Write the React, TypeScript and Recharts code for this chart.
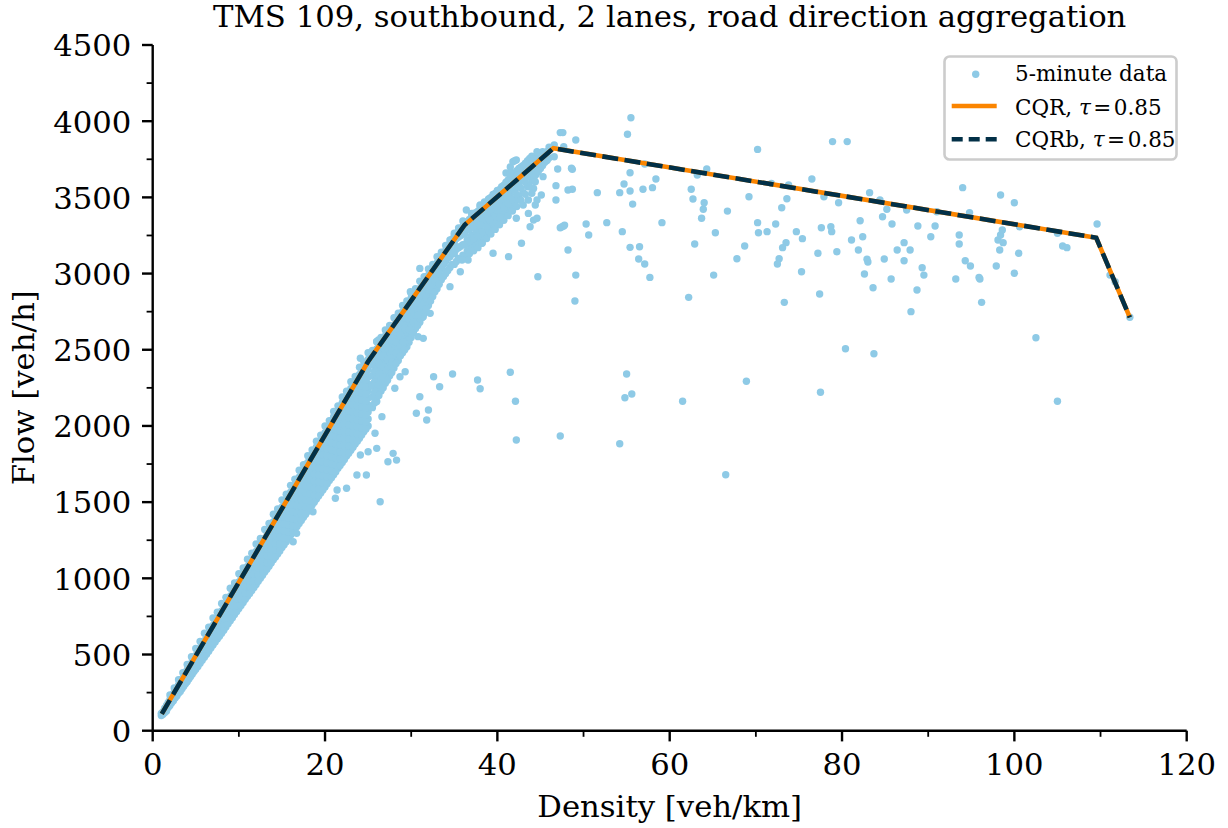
import React from 'react';
import { ScatterChart, Scatter, XAxis, YAxis, Legend } from 'recharts';

// ---------- data ----------

// Dense free-flow cloud, main columns: density -> observed flows
const freeFlowDensity: number[] = [
  1.0, 1.4, 1.8, 2.2, 2.6, 3.0, 3.4, 3.8, 4.2, 4.6, 5.0, 5.5, 6.0, 6.5, 7.0, 7.5, 8.0, 8.5, 9.0, 9.5,
  10.0, 10.5, 11.0, 11.5, 12.0, 12.5, 13.0, 13.5, 14.0, 14.5, 15.0, 15.5, 16.0, 16.5, 17.0, 17.5,
  18.0, 18.5, 19.0, 19.5, 20.0, 20.5, 21.0, 21.5, 22.0, 22.5, 23.0, 23.5, 24.0, 24.5, 25.0,
];
const freeFlowFlows: number[][] = [
  [100, 114],
  [120, 134, 147],
  [152, 170, 185],
  [183, 202, 222],
  [214, 236, 261],
  [246, 268, 290, 301],
  [276, 302, 325, 340],
  [308, 333, 358, 379],
  [340, 366, 392, 418],
  [372, 398, 426, 456],
  [404, 432, 462, 494],
  [442, 472, 505, 542],
  [482, 514, 548, 591],
  [522, 554, 588, 620, 644],
  [562, 594, 628, 662, 690],
  [602, 636, 672, 706, 738],
  [640, 676, 712, 748, 786],
  [680, 716, 754, 792, 834],
  [722, 760, 798, 838, 882],
  [762, 802, 842, 882, 928],
  [802, 842, 884, 928, 976],
  [842, 884, 926, 970, 1012, 1028],
  [882, 924, 966, 1010, 1052, 1078],
  [920, 962, 1006, 1050, 1094, 1128],
  [960, 1002, 1046, 1090, 1134, 1176],
  [1000, 1044, 1088, 1132, 1178, 1222],
  [1042, 1086, 1130, 1174, 1218, 1262],
  [1080, 1124, 1168, 1212, 1258, 1300, 1322],
  [1122, 1166, 1210, 1254, 1298, 1342, 1370],
  [1160, 1204, 1250, 1294, 1340, 1384, 1418],
  [1202, 1246, 1290, 1336, 1380, 1426, 1466],
  [1240, 1286, 1330, 1376, 1422, 1466, 1512],
  [1282, 1326, 1372, 1416, 1462, 1508, 1548, 1566],
  [1318, 1364, 1410, 1456, 1502, 1548, 1592, 1614],
  [1360, 1406, 1452, 1498, 1544, 1590, 1634, 1664],
  [1400, 1446, 1492, 1538, 1584, 1630, 1676, 1712],
  [1440, 1486, 1532, 1578, 1624, 1670, 1716, 1760],
  [1482, 1528, 1574, 1620, 1666, 1712, 1756, 1794, 1812],
  [1520, 1566, 1612, 1658, 1704, 1750, 1796, 1840, 1862],
  [1560, 1606, 1652, 1698, 1744, 1790, 1836, 1880, 1908],
  [1600, 1646, 1692, 1738, 1784, 1830, 1876, 1922, 1956],
  [1642, 1688, 1734, 1780, 1826, 1872, 1918, 1962, 2004],
  [1680, 1726, 1772, 1818, 1864, 1910, 1956, 2000, 2040, 2060],
  [1722, 1768, 1814, 1860, 1906, 1952, 1998, 2044, 2088, 2104],
  [1760, 1806, 1852, 1898, 1944, 1990, 2036, 2082, 2126, 2152],
  [1802, 1848, 1894, 1940, 1986, 2032, 2078, 2124, 2168, 2198],
  [1840, 1886, 1932, 1978, 2024, 2070, 2116, 2162, 2208, 2246],
  [1882, 1928, 1974, 2020, 2066, 2112, 2158, 2204, 2250, 2292],
  [1920, 1966, 2012, 2058, 2104, 2150, 2196, 2242, 2288, 2338],
  [1962, 2008, 2054, 2100, 2146, 2192, 2238, 2284, 2330, 2386],
  [2000, 2046, 2092, 2138, 2184, 2230, 2276, 2322, 2368, 2412, 2436],
];

// Dense free-flow cloud, in-between columns
const freeFlowDensityMid: number[] = [
  1.2, 1.6, 2.0, 2.4, 2.8, 3.2, 3.6, 4.0, 4.4, 4.8, 5.25, 5.75, 6.25, 6.75, 7.25, 7.75, 8.25, 8.75,
  9.25, 9.75, 10.25, 10.75, 11.25, 11.75, 12.25, 12.75, 13.25, 13.75, 14.25, 14.75, 15.25, 15.75,
  16.25, 16.75, 17.25, 17.75, 18.25, 18.75, 19.25, 19.75, 20.25, 20.75, 21.25, 21.75, 22.25, 22.75,
  23.25, 23.75, 24.25, 24.75,
];
const freeFlowFlowsMid: number[][] = [
  [108, 124],
  [130, 150, 165],
  [165, 185, 204],
  [196, 218, 242],
  [228, 252, 276],
  [258, 284, 310, 322],
  [292, 318, 344, 360],
  [322, 350, 376, 398],
  [356, 382, 410, 436],
  [388, 416, 446, 474],
  [422, 452, 484, 518],
  [462, 494, 526, 562],
  [502, 534, 568, 604],
  [542, 576, 610, 642, 664],
  [582, 616, 650, 684, 712],
  [620, 656, 692, 728, 760],
  [660, 698, 734, 770, 806],
  [702, 740, 778, 816, 856],
  [742, 782, 822, 862, 904],
  [782, 822, 864, 906, 950],
  [822, 864, 906, 950, 994],
  [862, 904, 946, 990, 1032, 1052],
  [900, 944, 986, 1030, 1074, 1100],
  [940, 984, 1028, 1072, 1116, 1150],
  [980, 1024, 1068, 1112, 1156, 1196],
  [1020, 1064, 1108, 1152, 1196, 1240],
  [1060, 1104, 1150, 1196, 1240, 1282],
  [1100, 1146, 1190, 1234, 1278, 1322, 1344],
  [1140, 1186, 1230, 1276, 1320, 1364, 1390],
  [1180, 1226, 1270, 1316, 1360, 1406, 1440],
  [1220, 1266, 1312, 1358, 1402, 1446, 1488],
  [1260, 1306, 1352, 1398, 1444, 1490, 1534],
  [1300, 1346, 1392, 1438, 1484, 1528, 1572],
  [1340, 1386, 1432, 1478, 1524, 1570, 1614, 1636],
  [1380, 1426, 1472, 1518, 1564, 1610, 1654, 1684],
  [1420, 1466, 1512, 1558, 1604, 1650, 1696, 1732],
  [1460, 1506, 1552, 1598, 1644, 1690, 1736, 1778],
  [1500, 1546, 1592, 1638, 1684, 1730, 1776, 1822],
  [1540, 1586, 1632, 1678, 1724, 1770, 1816, 1862, 1880],
  [1580, 1626, 1672, 1718, 1764, 1810, 1856, 1900, 1926],
  [1620, 1666, 1712, 1758, 1804, 1850, 1896, 1942, 1978],
  [1660, 1706, 1752, 1798, 1844, 1890, 1936, 1982, 2022],
  [1700, 1746, 1792, 1838, 1884, 1930, 1976, 2022, 2068],
  [1740, 1786, 1832, 1878, 1924, 1970, 2016, 2062, 2108, 2124],
  [1780, 1826, 1872, 1918, 1964, 2010, 2056, 2102, 2148, 2170],
  [1820, 1866, 1912, 1958, 2004, 2050, 2096, 2142, 2188, 2220],
  [1860, 1906, 1952, 1998, 2044, 2090, 2136, 2182, 2228, 2268],
  [1900, 1946, 1992, 2038, 2084, 2130, 2176, 2222, 2268, 2314],
  [1940, 1986, 2032, 2078, 2124, 2170, 2216, 2262, 2308, 2358],
  [1980, 2026, 2072, 2118, 2164, 2210, 2256, 2302, 2348, 2400],
];

// Cloud approaching capacity, main columns
const nearCapacityDensity: number[] = [
  25.5, 26.0, 26.5, 27.0, 27.5, 28.0, 28.5, 29.0, 29.5, 30.0, 30.5, 31.0, 31.5, 32.0, 32.5, 33.0,
  33.5, 34.0, 34.5, 35.0, 35.5, 36.0, 36.5, 37.0, 37.5, 38.0, 38.5, 39.0, 39.5, 40.0, 40.5, 41.0,
  41.5, 42.0, 42.5, 43.0, 43.5, 44.0, 44.5, 45.0, 45.5, 46.0,
];
const nearCapacityFlows: number[][] = [
  [2120, 2190, 2260, 2330, 2400, 2470],
  [2160, 2240, 2310, 2380, 2440, 2505],
  [2230, 2300, 2370, 2440, 2500, 2548],
  [2280, 2350, 2420, 2490, 2560, 2590],
  [2330, 2400, 2470, 2540, 2610, 2630],
  [2380, 2450, 2520, 2590, 2660],
  [2430, 2500, 2570, 2640, 2700],
  [2480, 2550, 2620, 2690, 2750],
  [2520, 2600, 2670, 2740, 2790],
  [2580, 2650, 2720, 2790, 2840],
  [2640, 2710, 2780, 2850],
  [2680, 2760, 2830, 2900],
  [2740, 2810, 2880, 2940],
  [2790, 2860, 2930, 2990],
  [2850, 2920, 2990, 3030],
  [2900, 2970, 3040, 3070],
  [2960, 3030, 3100],
  [3000, 3080, 3150],
  [3040, 3110, 3180, 3200],
  [3060, 3130, 3200, 3250],
  [3100, 3170, 3240, 3280],
  [3120, 3190, 3260, 3310],
  [3150, 3220, 3290, 3340],
  [3180, 3250, 3320, 3370],
  [3200, 3280, 3350, 3400],
  [3230, 3310, 3380, 3430, 3450],
  [3260, 3340, 3410, 3470],
  [3290, 3370, 3440, 3490],
  [3320, 3400, 3470, 3520],
  [3350, 3430, 3500, 3540],
  [3380, 3460, 3520, 3570],
  [3410, 3490, 3550, 3600, 3660],
  [3440, 3520, 3580, 3630, 3700],
  [3470, 3550, 3610, 3660, 3740],
  [3500, 3580, 3640, 3690],
  [3530, 3610, 3670, 3710],
  [3570, 3640, 3700, 3740],
  [3610, 3670, 3730, 3770],
  [3650, 3710, 3770],
  [3690, 3740, 3790],
  [3730, 3780],
  [3760, 3810],
];

// Cloud approaching capacity, in-between columns
const nearCapacityDensityMid: number[] = [
  25.75, 26.25, 26.75, 27.25, 27.75, 28.25, 28.75, 29.25, 29.75, 30.25, 30.75, 31.25, 31.75, 32.25,
  32.75, 33.25, 33.75, 34.25, 34.75, 35.25, 35.75, 36.25, 36.75, 37.25, 37.75, 38.25, 38.75, 39.25,
  39.75, 40.25, 40.75, 41.25, 41.75, 42.25, 42.75, 43.25, 43.75, 44.25, 44.75, 45.25, 45.75,
];
const nearCapacityFlowsMid: number[][] = [
  [2150, 2220, 2290, 2360, 2430, 2490],
  [2200, 2270, 2340, 2410, 2470, 2525],
  [2250, 2320, 2390, 2460, 2530, 2570],
  [2300, 2370, 2440, 2510, 2580, 2610],
  [2350, 2420, 2490, 2560, 2630, 2650],
  [2410, 2480, 2550, 2620, 2680],
  [2460, 2530, 2600, 2670, 2725],
  [2500, 2570, 2640, 2710, 2770],
  [2550, 2630, 2700, 2770, 2815],
  [2610, 2680, 2750, 2820, 2860],
  [2660, 2740, 2810, 2875],
  [2710, 2790, 2860, 2920],
  [2770, 2840, 2910, 2965],
  [2820, 2890, 2960, 3010],
  [2880, 2950, 3020, 3050],
  [2930, 3000, 3070, 3090],
  [2980, 3060, 3125],
  [3020, 3100, 3170],
  [3060, 3140, 3210, 3225],
  [3080, 3160, 3230, 3265],
  [3100, 3180, 3250, 3295],
  [3110, 3190, 3260, 3325],
  [3130, 3210, 3290, 3355],
  [3150, 3230, 3310, 3385],
  [3170, 3250, 3330, 3410],
  [3200, 3280, 3360, 3440],
  [3230, 3310, 3390, 3470],
  [3260, 3340, 3420, 3500],
  [3290, 3370, 3450, 3525],
  [3320, 3400, 3480, 3550],
  [3350, 3430, 3510, 3580],
  [3380, 3460, 3540, 3615],
  [3410, 3490, 3570, 3645],
  [3440, 3520, 3600, 3675],
  [3480, 3560, 3640, 3700],
  [3520, 3600, 3670, 3725],
  [3570, 3640, 3710, 3755],
  [3630, 3690, 3750],
  [3670, 3730, 3780],
  [3710, 3760, 3800],
  [3750, 3800],
];

// Observations just above the fitted quantile [density, flow]
const aboveFitPoints: [number, number][] = [
  [2.0, 235], [2.5, 280], [3.0, 335], [3.5, 380], [4.0, 435], [4.5, 485], [5.0, 540], [5.5, 585],
  [6.0, 640], [6.5, 680], [7.0, 740], [7.5, 778], [8.0, 835], [8.5, 875], [9.0, 935], [9.5, 970],
  [10.0, 1030], [10.5, 1068], [11.0, 1125], [11.5, 1165], [12.0, 1225], [12.5, 1262], [13.0, 1320],
  [13.5, 1360], [14.0, 1420], [14.5, 1455], [15.0, 1515], [15.5, 1552], [16.0, 1610], [16.5, 1650],
  [17.0, 1710], [17.5, 1745], [18.0, 1805], [18.5, 1842], [19.0, 1900], [19.5, 1940], [20.0, 2000],
  [20.5, 2035], [21.0, 2095], [21.5, 2132], [22.0, 2190], [22.5, 2228], [23.0, 2290], [23.5, 2325],
  [24.0, 2385], [24.5, 2420], [25.0, 2480], [25.5, 2495], [26.0, 2555], [26.5, 2580], [27.0, 2630],
  [27.5, 2660], [28.0, 2710], [28.5, 2740], [29.0, 2790], [29.5, 2820], [30.0, 2870], [30.5, 2900],
  [31.0, 2950], [31.5, 2980], [32.0, 3030], [32.5, 3060], [33.0, 3110], [33.5, 3140], [34.0, 3185],
  [34.5, 3220], [35.0, 3265], [35.5, 3300], [36.0, 3345], [37.0, 3395], [38.0, 3445], [39.0, 3490],
  [40.0, 3545], [41.0, 3590], [42.0, 3640], [43.0, 3690], [44.0, 3740], [45.0, 3785], [46.0, 3830],
];

// Scattered observations around the free-flow branch [density, flow]
const transitionPoints: [number, number][] = [
  [24.1, 2444], [26.0, 2553], [27.2, 2608], [26.2, 2564], [29.9, 2881], [31.0, 3034],
  [32.6, 2323], [33.3, 2257], [31.0, 2192], [32.0, 2105], [30.6, 2083], [31.8, 2039],
  [26.6, 2061], [25.8, 1952], [26.0, 1853], [24.1, 1809], [25.0, 1831], [27.9, 1820],
  [28.3, 1776], [27.3, 1765], [23.7, 1678], [24.8, 1678], [22.5, 1591], [21.4, 1580],
  [21.2, 1525], [26.4, 1503], [16.3, 1240], [16.7, 1295], [18.6, 1437],
  [34.8, 2341], [37.7, 2302], [38.0, 2244], [28.7, 2323], [28.1, 2247], [29.3, 2356],
  [30.8, 2586], [31.4, 2575], [29.7, 2564], [29.1, 2553], [32.2, 2739], [31.4, 2717], [30.8, 2728],
  [38.2, 3199], [39.5, 3133], [36.6, 3089], [35.9, 3089], [34.9, 3133], [33.7, 3067],
  [34.5, 2914], [35.7, 3012], [41.3, 3111], [42.8, 3199], [44.7, 2979], [43.8, 3307],
  [44.2, 3351], [44.6, 3363], [42.2, 3363], [43.6, 3395], [38.0, 3318], [39.1, 3351],
  [40.3, 3373], [36.4, 3417], [37.2, 3395], [41.8, 3734], [42.2, 3745], [41.5, 3658],
  [42.4, 3647], [43.4, 3636], [44.4, 3603], [44.2, 3559], [44.0, 3527], [44.6, 3483],
  [43.6, 3483], [43.0, 3450], [44.4, 3450], [45.1, 3516], [45.3, 3636], [45.7, 3741],
  [44.6, 3800], [45.8, 3745], [46.6, 3767],
];

// Congested branch [density, flow]
const congestedPoints: [number, number][] = [
  [47.3, 3925], [47.6, 3925], [55.5, 4023], [55.1, 3914], [49.1, 3877], [46.6, 3844],
  [47.7, 3833], [47.0, 3686], [48.6, 3691], [48.7, 3684], [55.4, 3662], [57.1, 3719],
  [46.8, 3577], [48.7, 3553], [51.6, 3531], [54.2, 3531], [54.7, 3588], [55.4, 3542],
  [56.9, 3553], [58.0, 3564], [58.4, 3621], [55.7, 3456], [46.8, 3483], [59.1, 3334],
  [52.7, 3334], [50.3, 3325], [47.7, 3312], [47.3, 3301], [50.6, 3253], [54.5, 3275],
  [55.4, 3172], [56.5, 3176], [48.2, 3155], [56.4, 3096], [57.1, 3063], [57.7, 2975],
  [49.1, 2990], [49.0, 2820], [62.2, 2844], [65.1, 2990], [62.9, 3194], [63.7, 3363],
  [63.9, 3422], [64.0, 3465], [62.7, 3489], [62.5, 3553], [65.3, 3268], [66.7, 3410],
  [64.3, 3686], [63.2, 3647], [47.5, 3307], [47.8, 3318], [48.2, 3548],
  [70.2, 3815], [78.9, 3866], [80.6, 3866], [69.2, 3504], [71.8, 3592], [73.8, 3581],
  [73.6, 3491], [73.0, 3432], [72.3, 3325], [70.2, 3334], [70.3, 3268], [71.3, 3275],
  [68.7, 3181], [67.8, 3097], [73.5, 3203], [73.1, 3170], [72.7, 3097], [72.5, 3063],
  [73.3, 2811], [75.3, 3012], [74.7, 3275], [75.4, 3229], [76.5, 3621], [77.6, 3301],
  [78.7, 3308], [78.8, 3275], [77.2, 3133], [77.4, 2866], [77.9, 3504], [79.6, 3465],
  [79.4, 3143], [81.1, 3220], [81.9, 3155], [82.1, 3347], [82.4, 3242], [82.9, 3094],
  [83.0, 3076], [82.6, 2997], [83.6, 2907], [83.2, 3531], [84.4, 3483], [84.7, 3373],
  [85.2, 3422], [85.8, 3325], [84.9, 3096], [85.7, 2964], [86.4, 3155], [87.2, 3203],
  [87.2, 3084], [87.9, 3155], [87.5, 3417], [88.8, 3312], [88.7, 2892], [89.3, 3038],
  [89.5, 2990], [88.0, 2750], [90.3, 3242], [90.8, 3312], [91.0, 3406], [93.6, 3253],
  [93.6, 3194], [94.0, 3564], [94.3, 3084], [94.9, 3050], [94.8, 3400], [93.2, 2964],
  [95.9, 2975], [96.0, 2964], [96.2, 2811], [97.9, 3050], [98.3, 3155], [98.1, 3220],
  [98.4, 3253], [98.6, 3286], [98.7, 3203], [98.4, 3516], [100.0, 3465], [100.6, 3307],
  [100.5, 3133], [100.0, 3002], [105.0, 3264], [105.6, 3181], [106.1, 3170], [109.6, 3325],
  [111.1, 2990], [111.7, 2947], [113.4, 2713],
];

// Low-flow observations [density, flow]
const lowFlowPoints: [number, number][] = [
  [102.5, 2579], [80.4, 2507], [83.7, 2474], [77.5, 2221], [105.0, 2162], [66.5, 1680],
  [68.9, 2293], [61.5, 2162], [55.0, 2341], [54.8, 2185], [55.6, 2210], [54.2, 1883],
  [47.3, 1934], [42.2, 1908], [42.1, 2162], [41.5, 2352],
];

// Piecewise-linear quantile fits [density, flow]
const cqrKnots: [number, number][] = [
  [1.05, 110], [25.0, 2423], [36.2, 3319], [46.5, 3822], [109.5, 3235], [113.4, 2712],
];
const cqrbKnots: [number, number][] = [
  [1.05, 110], [25.0, 2423], [36.2, 3319], [46.5, 3822], [109.5, 3235], [113.4, 2712],
];

const xTicks: number[] = [0, 10, 20, 30, 40, 50, 60, 70, 80, 90, 100, 110, 120];
const xLabelled: number[] = [0, 20, 40, 60, 80, 100, 120];
const yTicks: number[] = [
  0, 250, 500, 750, 1000, 1250, 1500, 1750, 2000, 2250, 2500, 2750, 3000, 3250, 3500, 3750, 4000,
  4250, 4500,
];
const yLabelled: number[] = [0, 500, 1000, 1500, 2000, 2500, 3000, 3500, 4000, 4500];

// ---------- styling ----------

const W = 1228;
const H = 828;
const SERIF = '"DejaVu Serif", "Liberation Serif", serif';
const DOT = '#8ECAE6';
const ORANGE = '#FB8500';
const NAVY = '#023047';
const FS = 30.7;
const MAJOR = 10.7;
const MINOR = 6.1;
const PAD = 10.7;

type Pt = { x: number; y: number };
const fromColumns = (dens: number[], flows: number[][]): Pt[] =>
  dens.flatMap((d, i) => flows[i].map((f) => ({ x: d, y: f })));
const fromPairs = (list: [number, number][]): Pt[] => list.map(([x, y]) => ({ x, y }));

const observations: Pt[] = [
  ...fromColumns(freeFlowDensity, freeFlowFlows),
  ...fromColumns(freeFlowDensityMid, freeFlowFlowsMid),
  ...fromColumns(nearCapacityDensity, nearCapacityFlows),
  ...fromColumns(nearCapacityDensityMid, nearCapacityFlowsMid),
  ...fromPairs(aboveFitPoints),
  ...fromPairs(transitionPoints),
  ...fromPairs(congestedPoints),
  ...fromPairs(lowFlowPoints),
];
const cqrLine = fromPairs(cqrKnots);
const cqrbLine = fromPairs(cqrbKnots);

const XTick = (props: any) => {
  const { x, y, payload } = props;
  const major = xLabelled.includes(payload.value);
  return (
    <g>
      <line x1={x} x2={x} y1={y} y2={y + (major ? MAJOR : MINOR)} stroke="#000" strokeWidth={major ? 2.4 : 1.8} />
      {major && (
        <text x={x} y={y + MAJOR + PAD + 0.76 * FS} textAnchor="middle" fontFamily={SERIF} fontSize={FS} fill="#000">
          {payload.value}
        </text>
      )}
    </g>
  );
};

const YTick = (props: any) => {
  const { x, y, payload } = props;
  const major = yLabelled.includes(payload.value);
  return (
    <g>
      <line x1={x - (major ? MAJOR : MINOR)} x2={x} y1={y} y2={y} stroke="#000" strokeWidth={major ? 2.4 : 1.8} />
      {major && (
        <text x={x - MAJOR - PAD} y={y + 0.37 * FS} textAnchor="end" fontFamily={SERIF} fontSize={FS} fill="#000">
          {payload.value}
        </text>
      )}
    </g>
  );
};

const DOT_R = 3.7;
const renderDot = (p: any) => <circle cx={p.cx} cy={p.cy} r={DOT_R} fill={DOT} />;
const noMarker = () => <g />;

const LFS = 21.5;
const MathTau = () => (
  <>
    <tspan fontStyle="italic">τ</tspan>
    <tspan dx={2.5}>=</tspan>
    <tspan dx={2.5}>0.85</tspan>
  </>
);

const LegendBox = () => (
  <svg width={236} height={108} style={{ display: 'block', overflow: 'visible' }}>
    <rect x={1.5} y={1.5} width={232} height={103} rx={5} ry={5} fill="#fff" fillOpacity={0.8} stroke="#cccccc" strokeWidth={2.6} />
    <circle cx={32.7} cy={19.3} r={DOT_R} fill={DOT} />
    <text x={72} y={25.5} fontFamily={SERIF} fontSize={LFS} fill="#000">5-minute data</text>
    <line x1={8.7} x2={53.7} y1={51} y2={51} stroke={ORANGE} strokeWidth={4.6} />
    <text x={72} y={59.5} fontFamily={SERIF} fontSize={LFS} fill="#000">
      CQR, <MathTau />
    </text>
    <line x1={8.7} x2={53.7} y1={84.3} y2={84.3} stroke={NAVY} strokeWidth={4.6} strokeDasharray="11 6" />
    <text x={72} y={92} fontFamily={SERIF} fontSize={LFS} fill="#000">
      CQRb, <MathTau />
    </text>
  </svg>
);

export default function App() {
  const left = 152.7;
  const right = 1186.7;
  const top = 45;
  const bottom = 730.7;
  return (
    <div style={{ position: 'absolute', left: 0, top: 0, width: W, height: H, background: '#fff' }}>
      <ScatterChart
        width={W}
        height={H}
        margin={{ top, right: W - right, bottom: H - bottom - 60, left: left - 80 }}
      >
        <XAxis
          type="number"
          dataKey="x"
          domain={[0, 120]}
          ticks={xTicks}
          interval={0}
          tickSize={0}
          tickMargin={0}
          tickLine={false}
          tick={<XTick />}
          axisLine={{ stroke: '#000', strokeWidth: 2.4 }}
          height={60}
          allowDataOverflow
        />
        <YAxis
          type="number"
          dataKey="y"
          domain={[0, 4500]}
          ticks={yTicks}
          interval={0}
          tickSize={0}
          tickMargin={0}
          tickLine={false}
          tick={<YTick />}
          axisLine={{ stroke: '#000', strokeWidth: 2.4 }}
          width={80}
          allowDataOverflow
        />
        <XAxis
          xAxisId="top"
          orientation="top"
          type="number"
          domain={[0, 120]}
          height={0}
          tick={false}
          tickLine={false}
          axisLine={{ stroke: '#000', strokeWidth: 2.4 }}
        />
        <YAxis
          yAxisId="right"
          orientation="right"
          type="number"
          domain={[0, 4500]}
          width={0}
          tick={false}
          tickLine={false}
          axisLine={{ stroke: '#000', strokeWidth: 2.4 }}
        />
        <Scatter name="5-minute data" data={observations} fill={DOT} shape={renderDot} isAnimationActive={false} />
        <Scatter
          name="CQR"
          data={cqrLine}
          fill={ORANGE}
          line={{ stroke: ORANGE, strokeWidth: 4.6 }}
          lineJointType="linear"
          shape={noMarker}
          isAnimationActive={false}
        />
        <Scatter
          name="CQRb"
          data={cqrbLine}
          fill={NAVY}
          line={{ stroke: NAVY, strokeWidth: 4.6, strokeDasharray: '16 6.5' }}
          lineJointType="linear"
          shape={noMarker}
          isAnimationActive={false}
        />
        <Legend
          layout="horizontal"
          verticalAlign="middle"
          align="center"
          wrapperStyle={{ left: 943, top: 55, width: 236, height: 108 }}
          content={() => <LegendBox />}
        />
      </ScatterChart>
      <svg
        width={W}
        height={H}
        style={{ position: 'absolute', left: 0, top: 0, pointerEvents: 'none' }}
      >
        <text x={(left + right) / 2} y={26.6} textAnchor="middle" fontFamily={SERIF} fontSize={FS} fill="#000">
          TMS 109, southbound, 2 lanes, road direction aggregation
        </text>
        <text x={(left + right) / 2} y={817} textAnchor="middle" fontFamily={SERIF} fontSize={FS} fill="#000">
          Density [veh/km]
        </text>
        <text
          x={33.7}
          y={(top + bottom) / 2}
          transform={`rotate(-90, 33.7, ${(top + bottom) / 2})`}
          textAnchor="middle"
          fontFamily={SERIF}
          fontSize={FS}
          fill="#000"
        >
          Flow [veh/h]
        </text>
      </svg>
    </div>
  );
}
